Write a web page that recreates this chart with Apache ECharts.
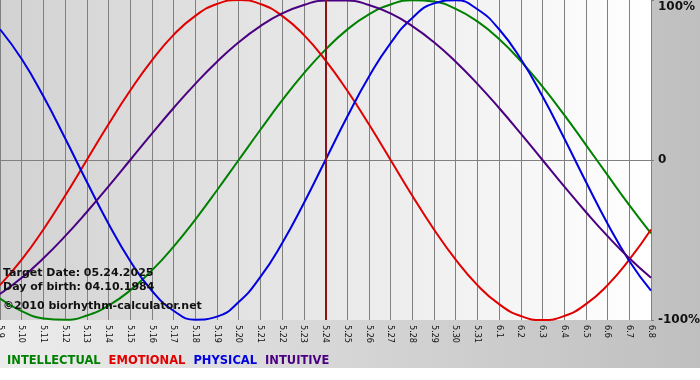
<!DOCTYPE html>
<html><head><meta charset="utf-8">
<script src="https://cdn.jsdelivr.net/npm/echarts@6/dist/echarts.min.js"></script>
<style>html,body{margin:0;padding:0;background:#fff;}#c{width:700px;height:368px;}</style>
</head><body><div id="c"></div>
<script>
const dates = ['5.9','5.10','5.11','5.12','5.13','5.14','5.15','5.16','5.17','5.18','5.19','5.20','5.21','5.22','5.23','5.24','5.25','5.26','5.27','5.28','5.29','5.30','5.31','6.1','6.2','6.3','6.4','6.5','6.6','6.7','6.8'];
const intellectual = [-0.866,-0.945,-0.990,-0.999,-0.972,-0.910,-0.815,-0.690,-0.541,-0.372,-0.189,0,0.189,0.372,0.541,0.690,0.815,0.910,0.972,0.999,0.990,0.945,0.866,0.756,0.618,0.458,0.282,0.095,-0.095,-0.282,-0.458];
const emotional = [-0.782,-0.623,-0.434,-0.223,0,0.223,0.434,0.623,0.782,0.901,0.975,1,0.975,0.901,0.782,0.623,0.434,0.223,0,-0.223,-0.434,-0.623,-0.782,-0.901,-0.975,-1,-0.975,-0.901,-0.782,-0.623,-0.434];
const physical = [0.817,0.631,0.398,0.136,-0.136,-0.398,-0.631,-0.817,-0.942,-0.998,-0.979,-0.888,-0.731,-0.520,-0.270,0,0.270,0.520,0.731,0.888,0.979,0.998,0.942,0.817,0.631,0.398,0.136,-0.136,-0.398,-0.631,-0.817];
const intuitive = [-0.837,-0.736,-0.614,-0.476,-0.325,-0.165,0,0.165,0.325,0.476,0.614,0.736,0.837,0.916,0.969,0.997,0.997,0.969,0.916,0.837,0.736,0.614,0.476,0.325,0.165,0,-0.165,-0.325,-0.476,-0.614,-0.736];
const yTickValues = [-1, 0, 1];
const yTickLabels = ['-100%', '0', '100%'];
const targetDate = '5.24';
const seriesNames = ['INTELLECTUAL', 'EMOTIONAL', 'PHYSICAL', 'INTUITIVE'];
const seriesColors = ['#008000', '#e00000', '#0000e0', '#4b0082'];
const seriesData = [intellectual, emotional, physical, intuitive];

const chart = echarts.init(document.getElementById('c'));
const font = '"DejaVu Sans", Verdana, sans-serif';
const lineSeries = seriesNames.map((n, i) => ({
  name: n, type: 'line', data: seriesData[i], smooth: true, showSymbol: false,
  lineStyle: { width: 2, color: seriesColors[i] }, itemStyle: { color: seriesColors[i] },
  z: 3, animation: false
}));
chart.setOption({
  animation: false,
  backgroundColor: { type: 'linear', x: 0, y: 0, x2: 1, y2: 0, colorStops: [{ offset: 0, color: '#ececec' }, { offset: 1, color: '#bfbfbf' }] },
  grid: {
    left: 0, right: 49, top: 0, bottom: 48, show: true, borderWidth: 0,
    containLabel: false, outerBoundsMode: 'none',
    backgroundColor: { type: 'linear', x: 0, y: 0, x2: 1, y2: 0, colorStops: [{ offset: 0, color: '#d2d2d2' }, { offset: 1, color: '#ffffff' }] }
  },
  xAxis: {
    type: 'category', data: dates, boundaryGap: false,
    axisLine: { show: true, lineStyle: { color: '#808080', width: 1 } },
    axisTick: { show: true, length: 3, interval: 0, lineStyle: { color: '#808080' } },
    axisLabel: { interval: 0, rotate: -90, margin: 5, fontSize: 9, color: '#111',
      fontFamily: '"DejaVu Sans Condensed", "Liberation Sans Narrow", "DejaVu Sans", sans-serif' },
    splitLine: { show: true, interval: 0, lineStyle: { color: '#808080', width: 1 } }
  },
  yAxis: {
    type: 'value', position: 'right', min: -1, max: 1, interval: 1,
    axisLine: { show: false },
    axisTick: { show: true, length: 3, lineStyle: { color: '#808080' } },
    splitLine: { show: true, lineStyle: { color: ['transparent', '#808080', 'transparent'], width: 1 } },
    axisLabel: {
      margin: 7, fontSize: 12, fontWeight: 'bold', color: '#111', fontFamily: font,
      formatter: v => {
        const t = yTickLabels[yTickValues.indexOf(v)];
        return v === 1 ? '{top|' + t + '}' : t;
      },
      rich: { top: { fontSize: 12, fontWeight: 'bold', color: '#111', fontFamily: font, padding: [14, 0, 0, 0] } }
    }
  },
  legend: {
    left: 2, top: 355, padding: 0, itemWidth: 0, itemHeight: 0, itemGap: 3, icon: 'rect', selectedMode: false,
    textStyle: { fontSize: 11.5, fontWeight: 'bold', fontFamily: font },
    data: seriesNames.map((n, i) => ({ name: n, textStyle: { color: seriesColors[i] } }))
  },
  graphic: [
    { type: 'text', left: 3, top: 268, z: 100, style: { text: 'Target Date: 05.24.2025', font: 'bold 11px ' + font, fill: '#111' } },
    { type: 'text', left: 3, top: 282, z: 100, style: { text: 'Day of birth: 04.10.1984', font: 'bold 11px ' + font, fill: '#111' } },
    { type: 'text', left: 3, top: 301, z: 100, style: { text: '©2010 biorhythm-calculator.net', font: 'bold 11px ' + font, fill: '#111' } }
  ],
  series: [{
    type: 'line', data: [], z: 2, silent: true,
    markLine: { silent: true, symbol: 'none', animation: false, label: { show: false },
      lineStyle: { color: '#8b1414', width: 2, type: 'solid' }, data: [{ xAxis: targetDate }] }
  }].concat(lineSeries)
});
</script></body></html>
